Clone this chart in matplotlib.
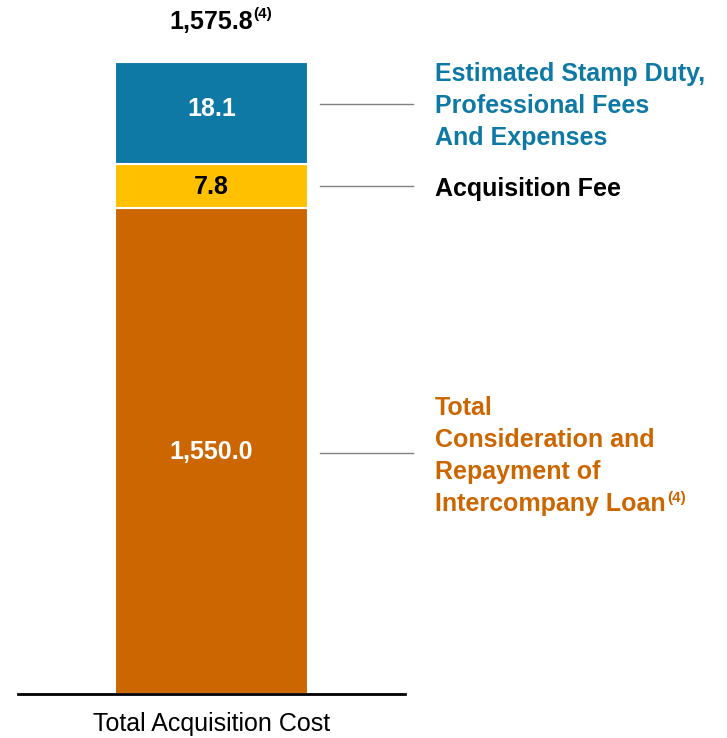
import matplotlib
matplotlib.use("Agg")
import matplotlib.pyplot as plt

# segments bottom -> top
segments = ["Total\nConsideration and\nRepayment of\nIntercompany Loan", "Acquisition Fee",
            "Estimated Stamp Duty,\nProfessional Fees\nAnd Expenses"]
values = [1550.0, 7.8, 18.1]
total = 1575.8
category = "Total Acquisition Cost"
# drawn heights (chart is not to scale)
shown = [486, 44, 102]
colors = ["#CC6600", "#FFC000", "#0F79A5"]
value_colors = ["white", "black", "white"]
label_colors = ["#CC6600", "black", "#0F79A5"]

plt.rcParams["font.family"] = ["Liberation Sans", "DejaVu Sans"]
FS = 18

fig = plt.figure(figsize=(7.27, 7.38), dpi=100)
ax = fig.add_axes([18 / 727, 44 / 738, 387 / 727, 632 / 738])
ax.set_xlim(-0.5, 0.5)
ax.set_ylim(0, sum(shown))

# small tweaks to where the value/leader sits inside each segment
val_shift = [-1, -1, 4]
line_shift = [-2, 0, 9]
lab_shift = [-3, -3, -2]

lab_x = 0.5 + (435 - 405) / 387
bottom = 0
for i, h in enumerate(shown):
    ax.bar(0, h, width=0.5, bottom=bottom, color=colors[i], edgecolor="white",
           linewidth=1.5, zorder=2)
    mid = bottom + h / 2
    ax.text(0, mid + val_shift[i], f"{values[i]:,.1f}", ha="center", va="center",
            fontsize=FS, fontweight="bold", color=value_colors[i])
    # leader line
    ly = mid + line_shift[i]
    ax.plot([0.28, 0.52], [ly, ly], color="#808080", lw=1, clip_on=False)
    t = ax.text(lab_x, ly + lab_shift[i], segments[i], ha="left", va="center", fontsize=FS,
                fontweight="bold", color=label_colors[i], linespacing=1.43, clip_on=False)
    if i == 0:
        ax.annotate("(4)", xy=(1, 0), xycoords=t, xytext=(1, 18.5), textcoords="offset points",
                    ha="left", va="top", fontsize=11, fontweight="bold", color=label_colors[0])
    bottom += h

# total on top
tot = ax.text(0, sum(shown) + 40, f"{total:,.1f}", ha="center", va="center", fontsize=FS,
              fontweight="bold", color="black", clip_on=False)
ax.annotate("(4)", xy=(1, 1), xycoords=tot, xytext=(0, 2), textcoords="offset points",
            ha="left", va="top", fontsize=11, fontweight="bold", color="black")

# axis styling
for s in ["top", "right", "left"]:
    ax.spines[s].set_visible(False)
ax.spines["bottom"].set_linewidth(2)
ax.spines["bottom"].set_zorder(3)
ax.set_yticks([])
ax.set_xticks([0])
ax.set_xticklabels([category], fontsize=FS)
ax.tick_params(axis="x", length=0, pad=13)

fig.savefig("out.png", dpi=100)
